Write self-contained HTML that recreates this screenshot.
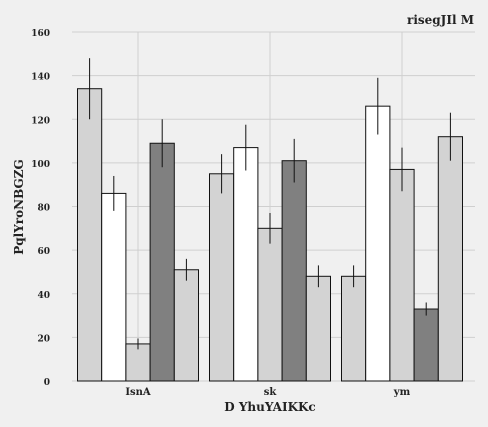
<!DOCTYPE html>
<html><head><meta charset="utf-8"><style>
body{margin:0;background:#f0f0f0;}
svg{display:block;font-family:"DejaVu Serif","Liberation Serif",serif;font-weight:bold;}
</style></head><body>
<svg id="c" width="488" height="427">
<rect width="488" height="427" fill="#f0f0f0"/>
<text x="474" y="24" text-anchor="end" font-size="12" fill="#222">risegJIl M</text>
<text transform="translate(23,207) rotate(-90)" text-anchor="middle" font-size="12" fill="#222">PqlYroNBGZG</text>
<text x="270" y="411" text-anchor="middle" font-size="12" fill="#222">D YhuYAIKKc</text>
<g id="grid"></g><g id="bars"></g><g id="axes"></g>
</svg>
<script>
const categories=["IsnA","sk","ym"];
const s1=[134,95,48], s1e=[14,9,5];
const s2=[86,107,126], s2e=[8,10.5,13];
const s3=[17,70,97], s3e=[2.5,7,10];
const s4=[109,101,33], s4e=[11,10,3];
const s5=[51,48,112], s5e=[5,5,11];
const yTicks=[0,20,40,60,80,100,120,140,160];
const series=[s1,s2,s3,s4,s5], errs=[s1e,s2e,s3e,s4e,s5e];
const fills=["#d3d3d3","#ffffff","#d3d3d3","#808080","#d3d3d3"];
const NS="http://www.w3.org/2000/svg";
const x0=72,band=132,yTop=32,yBot=381,ymax=160,bw=24.2;
const y=v=>yBot-(v/ymax)*(yBot-yTop);
const cx=i=>x0+band*i+band/2;
function mk(t,a,p){const e=document.createElementNS(NS,t);for(const k in a)e.setAttribute(k,a[k]);p.appendChild(e);return e;}
const grid=document.getElementById('grid'),bars=document.getElementById('bars'),axes=document.getElementById('axes');
yTicks.forEach(t=>{
 const l=mk('line',{x1:x0,x2:475,y1:y(t),y2:y(t),stroke:'#cfcfcf','stroke-width':1},grid);
 
 
 const tx=mk('text',{x:50,y:y(t)+4,'text-anchor':'end','font-size':9,fill:'#222'},axes);
 tx.textContent=t;
 
 
});
categories.forEach((c,i)=>{
 const l=mk('line',{x1:cx(i),x2:cx(i),y1:yTop,y2:yBot,stroke:'#cfcfcf','stroke-width':1},grid);
 
 
 const tx=mk('text',{x:cx(i),y:395,'text-anchor':'middle','font-size':10,fill:'#222'},axes);
 tx.textContent=c;
 
 
 series.forEach((s,j)=>{
  const bx=cx(i)-2.5*bw+j*bw;
  const r=mk('rect',{x:bx,y:y(s[i]),width:bw,height:yBot-y(s[i]),fill:fills[j],stroke:'#111','stroke-width':1},bars);
  
  
  const e=mk('line',{x1:bx+bw/2,x2:bx+bw/2,y1:y(s[i]+errs[j][i]),y2:y(s[i]-errs[j][i]),stroke:'#111','stroke-width':1},bars);
  
  
 });
});
</script>
</body></html>
